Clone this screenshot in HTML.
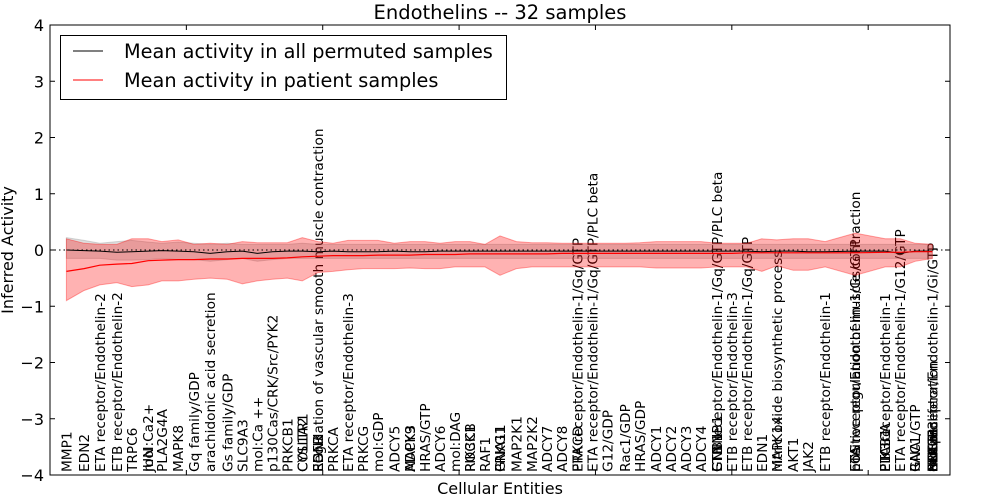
<!DOCTYPE html>
<html><head><meta charset="utf-8"><style>
html,body{margin:0;padding:0;background:#fff;}
svg{display:block;font-family:"DejaVu Sans","Liberation Sans",sans-serif;}
</style></head><body>
<svg id="chart" width="1000" height="500" viewBox="0 0 1000 500">
<text x="500" y="19" text-anchor="middle" font-size="19.5">Endothelins -- 32 samples</text>
<text transform="translate(13,250) rotate(-90)" text-anchor="middle" font-size="16">Inferred Activity</text>
<text x="500" y="494" text-anchor="middle" font-size="16">Cellular Entities</text>
<g id="plot"></g>
</svg>
<script>
const xDomain = [0, 132];
const yDomain = [-4, 4];
const yTicks = [-4, -3, -2, -1, 0, 1, 2, 3, 4];
const xTicks = [20, 40, 60, 80, 100, 120];
const entityX = [2.4,5.0,7.3,9.8,12.0,14.4,16.4,18.8,21.1,23.5,26.0,28.2,30.4,32.6,34.8,37.0,39.3,41.5,43.7,45.9,48.1,50.5,52.8,55.0,57.2,59.4,61.6,63.8,66.0,68.4,70.7,72.9,75.1,77.4,79.6,81.8,84.3,86.5,88.9,91.1,93.3,95.5,97.8,100.0,102.2,104.4,106.6,109.0,111.2,113.7,118.1,122.5,124.7,126.9,129.4];
const entityLabels = [["MMP1"],["EDN2"],["ETA receptor/Endothelin-2"],["ETB receptor/Endothelin-2"],["TRPC6"],["JUN","mol:Ca2+"],["PLA2G4A"],["MAPK8"],["Gq family/GDP"],["arachidonic acid secretion"],["Gs family/GDP"],["SLC9A3"],["mol:Ca ++"],["p130Cas/CRK/Src/PYK2"],["PRKCB1"],["COL1A2","CYSLTR1"],["EGFR","EDN3","Regulation of vascular smooth muscle contraction"],["PRKCA"],["ETA receptor/Endothelin-3"],["PRKCG"],["mol:GDP"],["ADCY5"],["MAPK3","ADCY9"],["HRAS/GTP"],["ADCY6"],["mol:DAG"],["PIK3CB","ROCK1"],["RAF1"],["PRKG1","GNA11"],["MAP2K1"],["MAP2K2"],["ADCY7"],["ADCY8"],["PRKCD","ETA receptor/Endothelin-1/Gq/GTP"],["ETA receptor/Endothelin-1/Gq/GTP/PLC beta"],["G12/GDP"],["Rac1/GDP"],["HRAS/GDP"],["ADCY1"],["ADCY2"],["ADCY3"],["ADCY4"],["GNB1","CTNNB1","ETB receptor/Endothelin-1/Gq/GTP/PLC beta"],["ETB receptor/Endothelin-3"],["ETB receptor/Endothelin-1/Gq/GTP"],["EDN1"],["MAPK14","nitric oxide biosynthetic process"],["AKT1"],["JAK2"],["ETB receptor/Endothelin-1"],["FOS","positive regulation of muscle contraction","ETA receptor/Endothelin-1/Gs/GTP"],["PLCB1","PIK3CA","ETA receptor/Endothelin-1"],["ETA receptor/Endothelin-1/G12/GTP"],["RAC1/GTP","GNAL"],["ETA receptor/Endothelin-1/Gi/GTP","cell proliferation","PTK2B","SRC","mol:IP3","NOS3","PLCG1"]];
const redMean = [-0.38,-0.33,-0.27,-0.25,-0.24,-0.19,-0.18,-0.17,-0.17,-0.16,-0.16,-0.15,-0.15,-0.15,-0.14,-0.12,-0.11,-0.1,-0.1,-0.1,-0.09,-0.09,-0.09,-0.08,-0.08,-0.08,-0.07,-0.07,-0.07,-0.07,-0.07,-0.07,-0.06,-0.06,-0.06,-0.06,-0.06,-0.06,-0.06,-0.06,-0.06,-0.06,-0.06,-0.06,-0.05,-0.05,-0.05,-0.05,-0.05,-0.05,-0.05,-0.04,-0.04,-0.03,-0.03];
const redHi = [0.2,0.12,0.1,0.1,0.2,0.2,0.15,0.18,0.1,0.12,0.1,0.15,0.13,0.13,0.13,0.22,0.15,0.12,0.17,0.17,0.17,0.12,0.15,0.15,0.12,0.15,0.15,0.1,0.25,0.15,0.13,0.13,0.12,0.12,0.12,0.12,0.12,0.13,0.15,0.15,0.15,0.15,0.12,0.12,0.12,0.2,0.18,0.2,0.2,0.15,0.3,0.2,0.2,0.12,0.1];
const redLo = [-0.9,-0.72,-0.62,-0.58,-0.65,-0.62,-0.55,-0.55,-0.52,-0.5,-0.52,-0.6,-0.55,-0.52,-0.5,-0.55,-0.4,-0.38,-0.35,-0.33,-0.33,-0.33,-0.32,-0.33,-0.33,-0.3,-0.3,-0.3,-0.45,-0.33,-0.3,-0.3,-0.3,-0.3,-0.3,-0.3,-0.3,-0.3,-0.32,-0.32,-0.32,-0.32,-0.3,-0.3,-0.3,-0.38,-0.28,-0.36,-0.36,-0.3,-0.45,-0.3,-0.3,-0.2,-0.15];
const blackMean = [0.0,-0.01,-0.02,-0.04,-0.03,-0.02,-0.01,-0.02,-0.03,-0.06,-0.03,-0.02,-0.06,-0.03,-0.02,-0.02,-0.03,-0.02,-0.03,-0.03,-0.03,-0.02,-0.03,-0.03,-0.02,-0.02,-0.02,-0.02,-0.02,-0.02,-0.02,-0.02,-0.02,-0.02,-0.02,-0.02,-0.02,-0.02,-0.02,-0.02,-0.02,-0.02,-0.02,-0.02,-0.02,-0.03,-0.02,-0.02,-0.03,-0.03,-0.02,-0.02,-0.06,-0.02,-0.02];
const blackHi = [0.22,0.17,0.12,0.15,0.17,0.14,0.12,0.14,0.12,0.1,0.12,0.1,0.1,0.1,0.1,0.12,0.1,0.1,0.1,0.1,0.1,0.1,0.1,0.1,0.1,0.1,0.1,0.1,0.1,0.1,0.1,0.1,0.1,0.1,0.1,0.1,0.1,0.1,0.1,0.1,0.1,0.1,0.1,0.1,0.1,0.1,0.1,0.1,0.1,0.1,0.1,0.1,0.1,0.1,0.1];
const blackLo = [-0.15,-0.15,-0.15,-0.18,-0.18,-0.17,-0.15,-0.17,-0.17,-0.2,-0.17,-0.15,-0.2,-0.17,-0.15,-0.15,-0.15,-0.15,-0.15,-0.15,-0.15,-0.15,-0.15,-0.15,-0.15,-0.15,-0.15,-0.15,-0.15,-0.15,-0.15,-0.15,-0.15,-0.15,-0.15,-0.15,-0.15,-0.15,-0.15,-0.15,-0.15,-0.15,-0.15,-0.15,-0.15,-0.15,-0.15,-0.15,-0.15,-0.15,-0.15,-0.15,-0.15,-0.15,-0.15];

const L=50,R=950,T=25,B=475;
const xs=v=>L+(v-xDomain[0])/(xDomain[1]-xDomain[0])*(R-L);
const ys=v=>B-(v-yDomain[0])/(yDomain[1]-yDomain[0])*(B-T);
const NS="http://www.w3.org/2000/svg";
const plot=document.getElementById('plot');
function mk(tag,attrs,parent){const e=document.createElementNS(NS,tag);for(const k in attrs)e.setAttribute(k,attrs[k]);(parent||plot).appendChild(e);return e;}
function bandPath(lo,hi){let d='';entityX.forEach((x,i)=>{d+=(i?'L':'M')+xs(x).toFixed(1)+','+ys(hi[i]).toFixed(1);});for(let i=entityX.length-1;i>=0;i--)d+='L'+xs(entityX[i]).toFixed(1)+','+ys(lo[i]).toFixed(1);return d+'Z';}
function linePath(m){return entityX.map((x,i)=>(i?'L':'M')+xs(x).toFixed(1)+','+ys(m[i]).toFixed(1)).join('');}

entityLabels.forEach((arr,i)=>{arr.forEach(t=>{
  const el=mk('text',{transform:`translate(${(xs(entityX[i])+5).toFixed(1)},472) rotate(-90)`,'font-size':'13.7'});
  
  
  el.textContent=t;});});

const gb=mk('path',{d:bandPath(blackLo,blackHi),fill:'rgba(128,128,128,0.25)',stroke:'rgba(128,128,128,0.3)'});


const rb=mk('path',{d:bandPath(redLo,redHi),fill:'rgba(255,0,0,0.3)',stroke:'rgba(255,0,0,0.35)'});


const zl=mk('line',{x1:L,x2:R,y1:ys(0),y2:ys(0),stroke:'#000','stroke-dasharray':'1.5,3','stroke-width':1});


const bl=mk('path',{d:linePath(blackMean),fill:'none',stroke:'#000','stroke-width':1});


const rl=mk('path',{d:linePath(redMean),fill:'none',stroke:'#f00','stroke-width':1.2});



const fr=mk('rect',{x:L,y:T,width:R-L,height:B-T,fill:'none',stroke:'#000','stroke-width':1});


yTicks.forEach(v=>{
  const y=ys(v);
  mk('line',{x1:L,x2:L+5,y1:y,y2:y,stroke:'#000'});
  mk('line',{x1:R-5,x2:R,y1:y,y2:y,stroke:'#000'});
  const t=mk('text',{x:L-6,y:y+6,'text-anchor':'end','font-size':'16'});
  
  
  t.textContent=(v<0?'\u2212':'')+Math.abs(v);
});
xTicks.forEach(v=>{
  const x=xs(v);
  mk('line',{x1:x,x2:x,y1:B-5,y2:B,stroke:'#000'});
  mk('line',{x1:x,x2:x,y1:T,y2:T+5,stroke:'#000'});
});

const lg=mk('g',{});


mk('rect',{x:60.5,y:35.5,width:446,height:64,fill:'#fff',stroke:'#000'},lg);
mk('line',{x1:73,x2:103,y1:51,y2:51,stroke:'#000'},lg);
mk('line',{x1:73,x2:103,y1:80,y2:80,stroke:'#f00'},lg);
const t1=mk('text',{x:124,y:58,'font-size':'19.3'},lg);


t1.textContent='Mean activity in all permuted samples';
const t2=mk('text',{x:124,y:87,'font-size':'19.3'},lg);


t2.textContent='Mean activity in patient samples';
</script>
</body></html>
